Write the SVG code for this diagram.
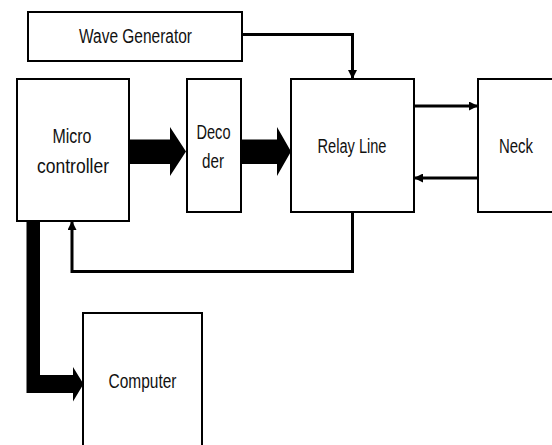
<svg xmlns="http://www.w3.org/2000/svg" width="552" height="445" viewBox="0 0 552 445">
<defs>
<style>
.box{fill:#fff;stroke:#000;stroke-width:2}
.t{font-family:"Liberation Sans",Arial,sans-serif;font-size:20px;fill:#111;text-anchor:middle}
.ln{fill:none;stroke:#000;stroke-width:3}
.thick{fill:#000;stroke:none}
</style>
<marker id="ah" markerWidth="9" markerHeight="9" refX="8" refY="4.5" orient="auto" markerUnits="userSpaceOnUse"><path d="M0,0 L9,4.5 L0,9 Z" fill="#000"/></marker>
</defs>
<rect width="552" height="445" fill="#fff"/>
<g id="wave"><rect class="box" x="28" y="12" width="214" height="49"/><text class="t" x="135.5" y="43" textLength="113" lengthAdjust="spacingAndGlyphs">Wave Generator</text></g>
<g id="micro"><rect class="box" x="17" y="79" width="112" height="142"/><text class="t" x="72" y="143" textLength="39" lengthAdjust="spacingAndGlyphs">Micro</text><text class="t" x="73" y="173" textLength="72" lengthAdjust="spacingAndGlyphs">controller</text></g>
<g id="decoder"><rect class="box" x="187" y="79" width="54" height="133"/><text class="t" x="213.5" y="139" textLength="34" lengthAdjust="spacingAndGlyphs">Deco</text><text class="t" x="213" y="168" textLength="22" lengthAdjust="spacingAndGlyphs">der</text></g>
<g id="relay"><rect class="box" x="291" y="79" width="123" height="133"/><text class="t" x="352" y="153" textLength="69" lengthAdjust="spacingAndGlyphs">Relay Line</text></g>
<g id="neck"><rect class="box" x="478" y="79" width="110" height="133"/><text class="t" x="516" y="153" textLength="34" lengthAdjust="spacingAndGlyphs">Neck</text></g>
<g id="computer"><rect class="box" x="83" y="313" width="119" height="140"/><text class="t" x="142.5" y="388" textLength="68" lengthAdjust="spacingAndGlyphs">Computer</text></g>
<g id="connectors">
<path class="ln" d="M242,34.5 H352.5 V78" marker-end="url(#ah)"/>
<path class="ln" d="M414,106 H477" marker-end="url(#ah)"/>
<path class="ln" d="M478,178 H415" marker-end="url(#ah)"/>
<path class="ln" d="M352.5,212 V271.5 H72 V222" marker-end="url(#ah)"/>
<path class="thick" d="M129,139.5 H170 V127 L186,151.5 L170,176 V164 H129 Z"/>
<path class="thick" d="M241,139.5 H277 V127 L291,151.5 L277,176 V164 H241 Z"/>
<path class="thick" d="M26.5,221 H40 V375 H73 V367 L83.5,384 L73,401.5 V393 H26.5 Z"/>
</g>
</svg>
